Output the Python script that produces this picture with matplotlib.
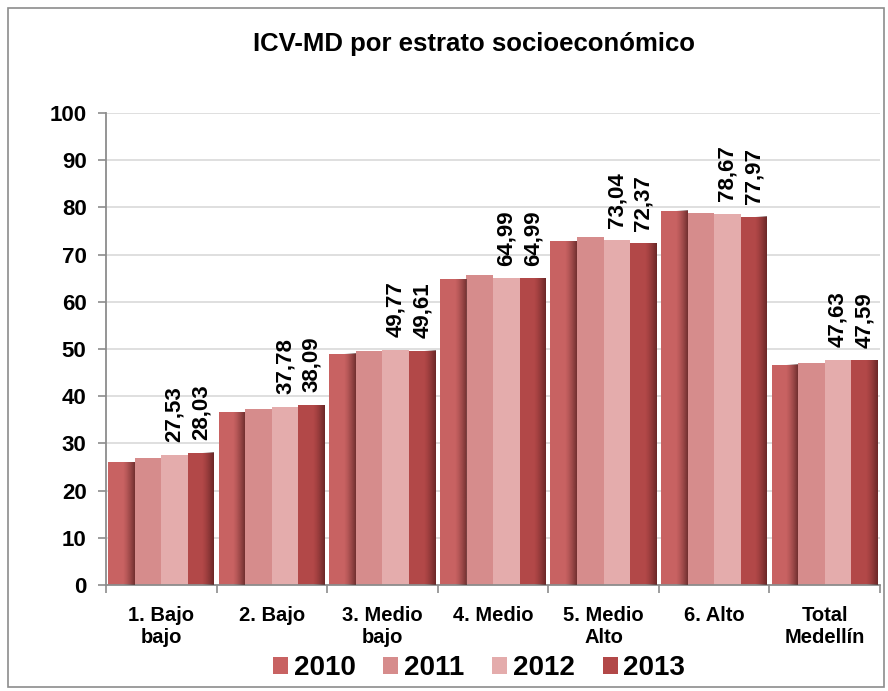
import numpy as np
import matplotlib
matplotlib.use("Agg")
import matplotlib.pyplot as plt
from matplotlib.patches import Patch, Rectangle
from matplotlib.colors import to_rgb

plt.rcParams['font.family'] = ['Liberation Sans', 'DejaVu Sans']

categories = ["1. Bajo\nbajo", "2. Bajo", "3. Medio\nbajo", "4. Medio", "5. Medio\nAlto", "6. Alto", "Total\nMedellín"]
years = ["2010", "2011", "2012", "2013"]
v2010 = [26.0, 36.6, 49.0, 64.8, 72.8, 79.3, 46.7]
v2011 = [27.0, 37.3, 49.5, 65.7, 73.8, 78.9, 47.1]
v2012 = [27.53, 37.78, 49.77, 64.99, 73.04, 78.67, 47.63]
v2013 = [28.03, 38.09, 49.61, 64.99, 72.37, 77.97, 47.59]
series = [v2010, v2011, v2012, v2013]
labeled = [False, False, True, True]
colors = ["#C86262", "#D68C8C", "#E4ACAC", "#B24848"]
shaded = [True, False, False, True]

W, H = 888, 691
fig = plt.figure(figsize=(W / 100, H / 100), dpi=100)
fig.patches.append(Rectangle((8 / W, 4 / H), 876 / W, 679 / H, transform=fig.transFigure,
                             fill=False, edgecolor="#8C8C8C", linewidth=1.2))

ax = fig.add_axes([106 / W, (H - 585) / H, 774 / W, 472 / H])
n = len(categories)
x = np.arange(n)
bw = 0.24
offsets = (np.arange(4) - 1.5) * bw

dark = np.array(to_rgb("#4a1818"))
grad = np.zeros((1, 50, 4))
grad[0, :, :3] = dark
grad[0, :, 3] = np.linspace(0, 0.75, 50) ** 1.3

for i, (vals, col) in enumerate(zip(series, colors)):
    xs = x + offsets[i]
    bars = ax.bar(xs, vals, width=bw, color=col, edgecolor="none", zorder=2)
    if shaded[i]:
        for b in bars:
            x0 = b.get_x()
            w = b.get_width()
            h = b.get_height()
            ax.imshow(grad, extent=(x0 + 0.55 * w, x0 + w, 0, h), aspect='auto',
                      zorder=3, interpolation='bilinear')
    if labeled[i]:
        for xx, v in zip(xs, vals):
            ax.text(xx, v + 2.7, f"{v:.2f}".replace('.', ','), rotation=90,
                    ha='center', va='bottom', fontsize=16, fontweight='bold', zorder=4)

ax.set_xlim(-0.5, n - 0.5)
ax.set_ylim(0, 100)
ax.set_yticks(np.arange(0, 101, 10))
ax.set_yticklabels([str(t) for t in range(0, 101, 10)], fontsize=16, fontweight='bold')
ax.set_xticks(x)
ax.set_xticklabels(categories, fontsize=14.5, fontweight='bold', linespacing=1.2)
ax.set_xticks(np.arange(-0.5, n, 1), minor=True)
ax.tick_params(axis='x', which='major', length=0, pad=15)
ax.tick_params(axis='x', which='minor', length=6, color="#8C8C8C", width=1.2)
ax.tick_params(axis='y', length=6, color="#8C8C8C", width=1.2, pad=8)
ax.grid(axis='y', color="#D9D9D9", linewidth=1.2, zorder=0)
ax.set_axisbelow(True)
for s in ["top", "right"]:
    ax.spines[s].set_visible(False)
for s in ["left", "bottom"]:
    ax.spines[s].set_color("#8C8C8C")
    ax.spines[s].set_linewidth(1.3)

fig.text(474 / W, 1 - 44 / H, "ICV-MD por estrato socioeconómico", ha='center', va='center',
         fontsize=18.5, fontweight='bold')

handles = [Patch(facecolor=c, edgecolor='none') for c in colors]
fig.legend(handles, years, loc='center', bbox_to_anchor=(479 / W, 1 - 668 / H), ncol=4,
           frameon=False, prop={'size': 20, 'weight': 'bold'}, handlelength=0.55,
           handleheight=0.55, handletextpad=0.2, columnspacing=1.0)

fig.savefig("out.png", dpi=100)
